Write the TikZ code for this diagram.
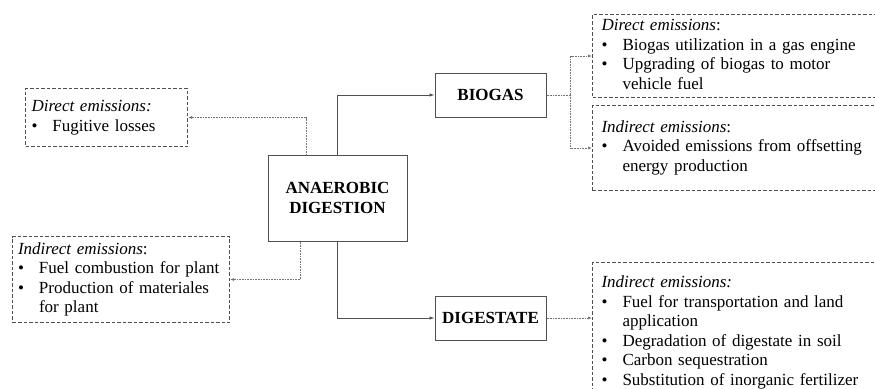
\documentclass[tikz,border=0pt]{standalone}
\usepackage{fontspec}
\setmainfont{Liberation Serif}
\usetikzlibrary{arrows.meta}
\definecolor{LineGray}{RGB}{80,80,80}
\newcommand{\emhead}[1]{\multicolumn{2}{@{}l@{}}{#1}}

\begin{document}
\begin{tikzpicture}[x=1pt, y=-1pt,
    font=\fontsize{17}{19.5}\selectfont,
    stage/.style={draw=LineGray, line width=1pt, align=center,
      font=\fontsize{17}{20.5}\selectfont\bfseries},
    embox/.style={draw=LineGray, line width=1pt, dash pattern=on 3.5pt off 2pt,
      anchor=north west, inner xsep=#1, inner ysep=0pt},
    flow/.style={LineGray, line width=0.8pt, -{Latex[length=5pt, width=3.5pt]}},
    emflow/.style={LineGray!80, line width=0.8pt, dash pattern=on 0.8pt off 0.8pt,
      -{Latex[length=4pt, width=3pt]}}]
      \clip (0,0) rectangle (875,388);

      % Stages
      \node[stage, minimum width=139pt, minimum height=86pt] (ad) at (337.5,198) {ANAEROBIC\\DIGESTION};
      \node[stage, minimum width=111pt, minimum height=44pt] (biogas) at (490.5,95) {BIOGAS};
      \node[stage, minimum width=111pt, minimum height=44pt] (digestate) at (490.5,318) {DIGESTATE};

      % Emissions of the plant
      \node[embox=6pt, text width=150pt, minimum height=58pt] (fugitive) at (25,88) {%
        \begin{tabular}{@{}p{21pt}@{}l@{}}
          \emhead{\textit{Direct emissions:}}\\
          \textbullet & Fugitive losses
        \end{tabular}};
      \node[embox=5.5pt, text width=206pt, minimum height=86pt] (plant) at (12,236) {%
        \begin{tabular}{@{}p{21pt}@{}l@{}}
          \emhead{\textit{Indirect emissions}:}\\
          \textbullet & Fuel combustion for plant\\
          \textbullet & Production of materiales\\
          & for plant
        \end{tabular}};

      % Emissions of the products
      \node[embox=9pt, text width=270pt, minimum height=83pt] (direct) at (592,14) {%
        \begin{tabular}{@{}p{21pt}@{}l@{}}
          \emhead{\textit{Direct emissions}:}\\
          \textbullet & Biogas utilization in a gas engine\\
          \textbullet & Upgrading of biogas to motor\\
          & vehicle fuel
        \end{tabular}};
      \node[embox=9pt, text width=270pt, minimum height=85pt] (indirect) at (592,105) {%
        \begin{tabular}{@{}p{21pt}@{}l@{}}
          \emhead{\textit{Indirect emissions}:}\\
          \textbullet & Avoided emissions from offsetting\\
          & energy production
        \end{tabular}};
      \node[embox=9pt, text width=270pt, minimum height=140pt] (digbox) at (592,262) {%
        \begin{tabular}{@{}p{21pt}@{}l@{}}
          \emhead{\textit{Indirect emissions:}}\\
          \textbullet & Fuel for transportation and land\\
          & application\\
          \textbullet & Degradation of digestate in soil\\
          \textbullet & Carbon sequestration\\
          \textbullet & Substitution of inorganic fertilizer
        \end{tabular}};

      % Main flow
      \draw[flow] (ad.north) |- (biogas.west);
      \draw[flow] (ad.south) |- (digestate.west);

      % Emission links
      \draw[emflow] ([xshift=-31.5pt]ad.north) |- (fugitive.east);
      \draw[emflow] ([xshift=-37pt]ad.south) |- (plant.east);
      \coordinate (split) at ([xshift=24pt]biogas.east);
      \draw[emflow] (biogas.east) -- (split) |- (direct.west);
      \draw[emflow] (split) |- (indirect.west);
      \draw[emflow] (digestate.east) -- (digestate.east -| digbox.west);
    \end{tikzpicture}
\end{document}
